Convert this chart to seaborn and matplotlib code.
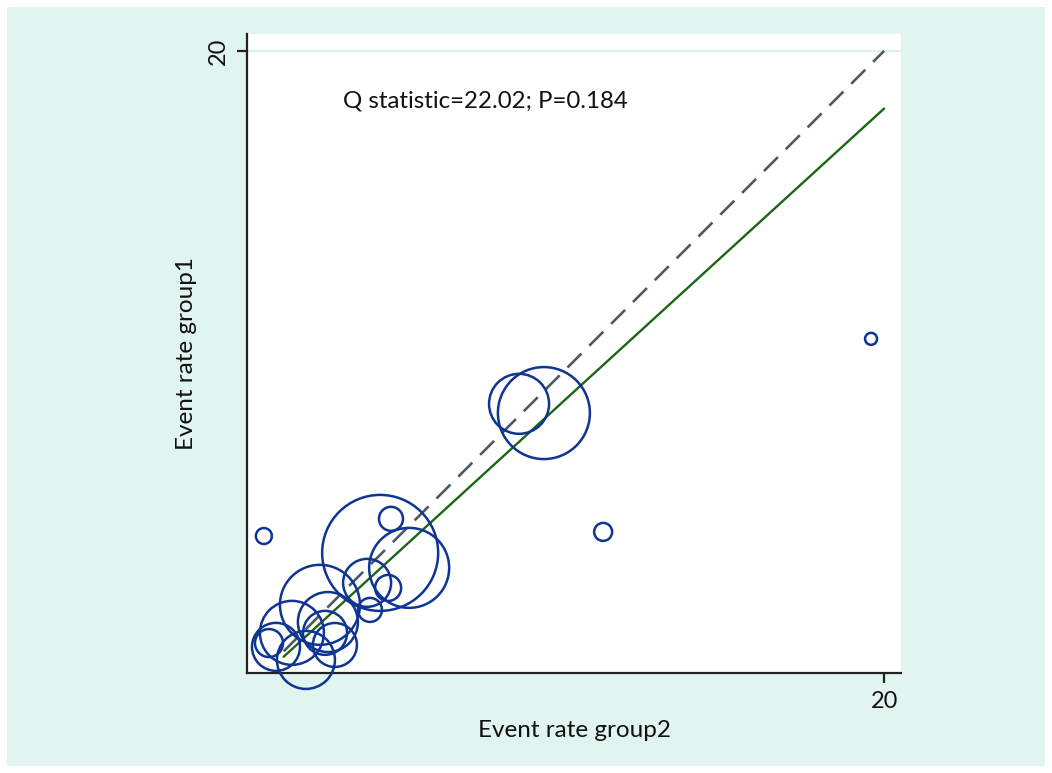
import numpy as np
import pandas as pd
import matplotlib
matplotlib.use("Agg")
import matplotlib.pyplot as plt
from matplotlib.patches import Rectangle
import seaborn as sns

# study-level event rates (group2 on x, group1 on y) and weights
rate_group2 = [0.53, 4.52, 11.18, 19.59, 8.54, 9.32, 4.18, 5.09, 3.77, 4.43,
               3.86, 2.29, 2.54, 1.41, 0.91, 0.69, 1.85, 2.45, 2.76]
rate_group1 = [4.77, 5.31, 4.90, 10.96, 8.92, 8.63, 4.24, 3.77, 3.30, 3.14,
               2.45, 2.61, 2.07, 1.73, 1.29, 1.41, 0.88, 1.73, 1.35]
weights = [64, 144, 81, 36, 900, 2116, 3364, 1600, 576, 169,
           144, 1600, 900, 1024, 576, 196, 841, 484, 484]

# fitted line and equality line range
line_x = [1.15, 20.0]
fit_a, fit_b = -0.07, 0.913

q_text = "Q statistic=22.02; P=0.184"
xlabel = "Event rate group2"
ylabel = "Event rate group1"
ticks = [20]

BG = "#e0f4f0"
NAVY = "#0e3591"
GREEN = "#1b6614"
SLATE = "#4b5b61"
INK = "#111111"

sns.set_style("white")
plt.rcParams["font.family"] = ["Lato", "DejaVu Sans"]
plt.rcParams["text.color"] = INK
plt.rcParams["axes.labelcolor"] = INK
plt.rcParams["xtick.color"] = INK
plt.rcParams["ytick.color"] = INK

fig = plt.figure(figsize=(10.52, 7.73), dpi=100)
fig.patch.set_facecolor("white")
fig.add_artist(Rectangle((7 / 1052, 7 / 773), 1038 / 1052, 759 / 773,
                         transform=fig.transFigure, facecolor=BG,
                         edgecolor="none", zorder=-5))
ax = fig.add_axes([247 / 1052, 100 / 773, 654 / 1052, 639 / 773])
ax.set_zorder(2)
ax.set_facecolor("white")

df = pd.DataFrame({"g2": rate_group2, "g1": rate_group1, "w": weights})
px2pt = 72 / 100
# marker area in pt^2: diameter = 2*sqrt(w) px
sizes = (2 * np.sqrt(df["w"]) * px2pt) ** 2

# equality line (dashed) and fitted line
lx = np.array(line_x)
sns.lineplot(x=lx, y=lx, ax=ax, color=SLATE, lw=1.9,
             linestyle=(0, (7.5, 4.2)), zorder=2)
sns.lineplot(x=lx, y=fit_a + fit_b * lx, ax=ax, color=GREEN, lw=1.7, zorder=2)

sns.scatterplot(data=df, x="g2", y="g1", s=sizes, ax=ax, facecolors="none",
                edgecolor=NAVY, linewidth=1.8, zorder=3, legend=False,
                clip_on=False)

ax.set_xlim(0, 20.53)
ax.set_ylim(0.47, 20.53)
ax.set_xticks(ticks)
ax.set_yticks(ticks)
ax.set_xticklabels([str(t) for t in ticks])
ax.set_yticklabels([str(t) for t in ticks], rotation=90, va="center")
ax.axhline(20, color="#dcf1ec", lw=1.5, zorder=1)

for s in ["top", "right"]:
    ax.spines[s].set_visible(False)
for s in ["left", "bottom"]:
    ax.spines[s].set_color("#222222")
    ax.spines[s].set_linewidth(1.6)
ax.tick_params(axis="both", which="both", direction="out", length=7, width=1.6,
               color="#222222", labelsize=17, pad=6, bottom=True, left=True)

ax.set_xlabel(xlabel, fontsize=17.5, labelpad=6)
ax.set_ylabel(ylabel, fontsize=17.5, labelpad=8)
ax.text(3.02, 18.43, q_text, fontsize=17.3, ha="left", va="center")

fig.savefig("out.png", dpi=100)
